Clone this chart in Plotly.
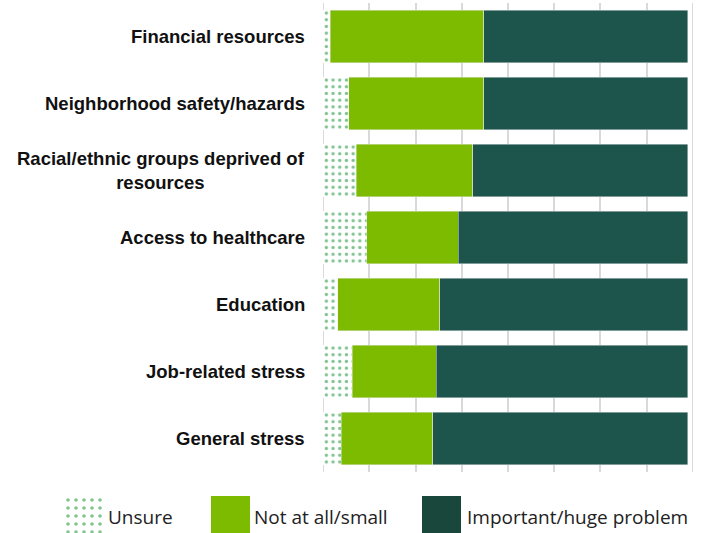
import plotly.graph_objects as go

# Survey results: share of respondents (%) per answer, top row first
categories = [
    "Financial resources",
    "Neighborhood safety/hazards",
    "Racial/ethnic groups deprived of<br>resources",
    "Access to healthcare",
    "Education",
    "Job-related stress",
    "General stress",
]
unsure = [2, 7, 9, 12, 4, 8, 5]
not_at_all_small = [42, 37, 32, 25, 28, 23, 25]
important_huge = [56, 56, 59, 63, 68, 69, 70]

series_names = ["Unsure", "Not at all/small", "Important/huge problem"]

W, H = 704, 533
GREEN = "#7cbb00"
DARK = "#1d554d"
DOT = "#008520"
GRID = "#d9d9d9"

# plot area in pixels
PX_L, PX_R, PX_T, PX_B = 323, 693, 3, 472
AXIS_MAX = 100 * 370 / 365
PAD = 0.05

fig = go.Figure()

bar_dots = dict(shape=".", fgcolor=DOT, bgcolor="white", size=6.7, solidity=0.2)
edge = dict(color="rgba(235,235,235,0.6)", width=0.8)

fig.add_trace(go.Bar(
    y=categories, x=unsure, name=series_names[0], orientation="h",
    marker=dict(color="white", pattern=bar_dots, line=dict(width=0)),
    showlegend=False,
))
fig.add_trace(go.Bar(
    y=categories, x=not_at_all_small, name=series_names[1], orientation="h",
    marker=dict(color=GREEN, line=edge), showlegend=False,
))
fig.add_trace(go.Bar(
    y=categories, x=important_huge, name=series_names[2], orientation="h",
    marker=dict(color=DARK, line=edge), showlegend=False,
))

# legend swatches drawn on a small auxiliary axis along the bottom edge
legend_dots = dict(shape=".", fgcolor="#008a14", bgcolor="white", size=8, solidity=0.16)
swatch_x = [82.5, 230, 441.5]
swatch_w = 39
swatch_styles = [
    dict(color="white", pattern=legend_dots, line=dict(width=0)),
    dict(color=GREEN, line=dict(width=0)),
    dict(color="#1a473c", line=dict(width=0)),
]
for sx, style, nm in zip(swatch_x, swatch_styles, series_names):
    fig.add_trace(go.Bar(
        x=[sx], y=[1], base=0, width=swatch_w, name=nm, marker=style,
        xaxis="x2", yaxis="y2", showlegend=False, hoverinfo="skip",
    ))

label_x = [106, 252, 465]
annotations = [
    dict(text=nm, x=lx / W, y=(H - 517) / H, xref="paper", yref="paper",
         xanchor="left", yanchor="middle", showarrow=False,
         font=dict(family="Open Sans", size=19, color="#222222"))
    for lx, nm in zip(label_x, series_names)
]

# category labels, centred line by line and right-aligned to the plot
for cat in categories:
    annotations.append(dict(
        text=cat, x=307 / W, y=cat, xref="paper", yref="y",
        xanchor="right", yanchor="middle", align="center", showarrow=False,
        font=dict(family="Liberation Sans", size=18.5, color="#111111", weight="bold"),
    ))

# grid lines at both ends of the value axis
edge_lines = [
    dict(type="line", xref="x", yref="paper", x0=v, x1=v,
         y0=(H - PX_B) / H, y1=(H - PX_T) / H, layer="below",
         line=dict(color=GRID, width=1.5))
    for v in (0, AXIS_MAX)
]

fig.update_layout(
    width=W, height=H,
    margin=dict(l=0, r=0, t=0, b=0),
    paper_bgcolor="white", plot_bgcolor="white",
    barmode="stack", bargap=0.21,
    xaxis=dict(
        domain=[PX_L / W, PX_R / W], range=[-PAD, AXIS_MAX + PAD],
        tick0=0, dtick=AXIS_MAX / 8, showticklabels=False,
        showgrid=True, gridcolor=GRID, gridwidth=1.5,
        zeroline=False, showline=False, fixedrange=True,
    ),
    yaxis=dict(
        domain=[(H - PX_B) / H, (H - PX_T) / H],
        autorange="reversed", showgrid=False, showline=False,
        ticks="", showticklabels=False,
    ),
    xaxis2=dict(domain=[0, 1], range=[0, W], anchor="y2", visible=False, fixedrange=True),
    yaxis2=dict(domain=[0, 37 / H], range=[0, 1], anchor="x2", visible=False, fixedrange=True),
    annotations=annotations,
    shapes=edge_lines,
    font=dict(family="Liberation Sans"),
)

fig.write_html("out.html")
